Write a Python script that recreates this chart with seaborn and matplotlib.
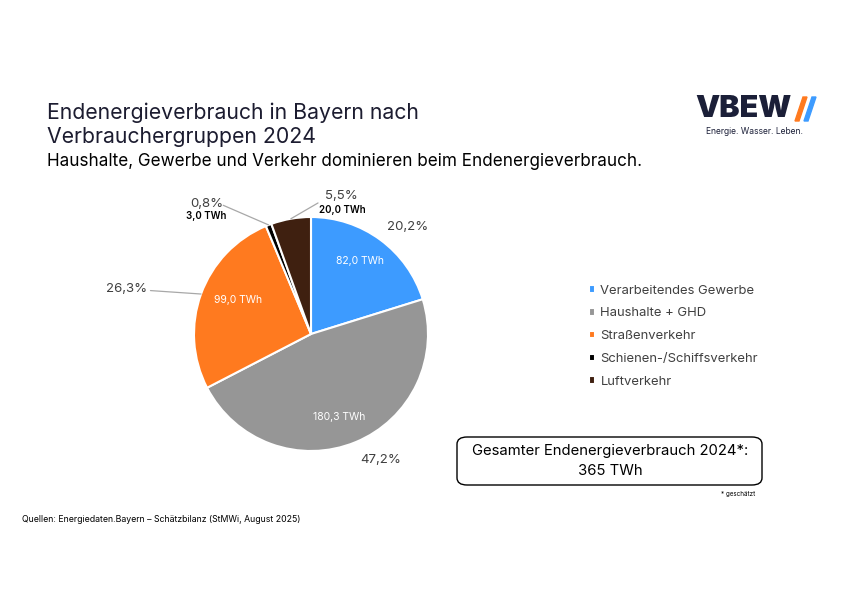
import matplotlib.pyplot as plt
import numpy as np
import seaborn as sns
from matplotlib.patches import FancyBboxPatch, Polygon

# Daten aus dem Diagramm
kategorien = ['Verarbeitendes Gewerbe', 'Haushalte + GHD', 'Straßenverkehr',
              'Schienen-/Schiffsverkehr', 'Luftverkehr']
anteile = [20.2, 47.2, 26.3, 0.8, 5.5]
twh = ['82,0 TWh', '180,3 TWh', '99,0 TWh', '3,0 TWh', '20,0 TWh']
prozent = ['20,2%', '47,2%', '26,3%', '0,8%', '5,5%']
farben = ['#3d9bff', '#969696', '#ff7a1f', '#000000', '#3f2010']

sns.set_theme(style='white')
plt.rcParams['font.family'] = ['Inter', 'DejaVu Sans']

W, H = 842, 595
fig = plt.figure(figsize=(W / 100, H / 100), dpi=100)


def fx(px):
    return px / W


def fy(py):
    return 1 - py / H


# Pie-Achse: Mittelpunkt (311, 334), Radius 117 px
cx, cy, R = 311, 334, 117
ax = fig.add_axes([fx(cx - 2 * R), fy(cy + 2 * R), 4 * R / W, 4 * R / H])

wedges, _ = ax.pie(anteile, colors=farben, startangle=90, counterclock=False,
                   wedgeprops=dict(edgecolor='white', linewidth=1.5))
ax.set_xlim(-2, 2)
ax.set_ylim(-2, 2)
ax.set_aspect('equal')
ax.axis('off')

grau = '#404040'
linie = '#a8a8a8'

# Innenbeschriftungen und Prozente der großen Segmente
innen = {0: (0.75, 56), 1: (0.75, -71), 2: (0.69, 155)}
aussen = {0: (1.23, 48), 1: (1.23, -61)}
for i, (r, a) in innen.items():
    ax.text(r * np.cos(np.radians(a)), r * np.sin(np.radians(a)), twh[i],
            color='white', fontsize=7.5, ha='center', va='center')
for i, (r, a) in aussen.items():
    ax.text(r * np.cos(np.radians(a)), r * np.sin(np.radians(a)), prozent[i],
            color=grau, fontsize=9.5, ha='center', va='center')


def mitte(w):
    return np.radians((w.theta1 + w.theta2) / 2)


# Straßenverkehr mit Führungslinie
m = mitte(wedges[2])
ax.annotate(prozent[2], xy=(np.cos(m), np.sin(m)), xytext=(-1.40, 0.385),
            ha='right', va='center', fontsize=9.5, color=grau,
            arrowprops=dict(arrowstyle='-', color=linie, lw=0.9,
                            shrinkA=0, shrinkB=0))

# Schienen-/Schiffsverkehr
m = mitte(wedges[3])
ax.annotate('', xy=(np.cos(m), np.sin(m)), xytext=(-0.75, 1.10),
            arrowprops=dict(arrowstyle='-', color=linie, lw=0.9,
                            shrinkA=0, shrinkB=0))
ax.text(-0.89, 1.11, prozent[3], ha='center', va='center', fontsize=9.5,
        color=grau)
ax.text(-0.90, 1.005, twh[3], ha='center', va='center', fontsize=7,
        color='black', fontweight='semibold')

# Luftverkehr
m = mitte(wedges[4])
ax.annotate('', xy=(np.cos(m), np.sin(m)), xytext=(0.06, 1.12),
            arrowprops=dict(arrowstyle='-', color=linie, lw=0.9,
                            shrinkA=0, shrinkB=0))
ax.text(0.26, 1.18, prozent[4], ha='center', va='center', fontsize=9.5,
        color=grau)
ax.text(0.265, 1.06, twh[4], ha='center', va='center', fontsize=7,
        color='black', fontweight='semibold')

# Legende
leg = fig.legend(wedges, kategorien, loc='upper left',
                 bbox_to_anchor=(fx(577), fy(273)), frameon=False,
                 fontsize=9.4, handlelength=0.5, handleheight=0.5,
                 handletextpad=0.4, labelspacing=0.82, labelcolor=grau)

# Titel
navy = '#1c1c30'
fig.text(fx(47), fy(113), 'Endenergieverbrauch in Bayern nach', fontsize=15.3,
         color=navy, va='center')
fig.text(fx(47), fy(137), 'Verbrauchergruppen 2024', fontsize=15.3,
         color=navy, va='center')
fig.text(fx(47), fy(162),
         'Haushalte, Gewerbe und Verkehr dominieren beim Endenergieverbrauch.',
         fontsize=12.3, color='black', va='center')

# Logo
fig.text(fx(695), fy(109), 'VBEW', fontsize=22, fontweight='black',
         color='#1b1f38', va='center')
for x0, c in [(797, '#ff7a1f'), (806, '#3d9bff')]:
    pts = [(x0 + 6, 97), (x0 + 10, 97), (x0 + 2, 121), (x0 - 2, 121)]
    fig.patches.append(Polygon([(fx(a), fy(b)) for a, b in pts], closed=True,
                               transform=fig.transFigure, color=c))
fig.text(fx(706), fy(131), 'Energie. Wasser. Leben.', fontsize=6.1,
         color='#1b1f38', va='center')

# Gesamtbox
box = FancyBboxPatch((fx(457), fy(485)), fx(762) - fx(457), fy(437) - fy(485),
                     boxstyle='round,pad=0,rounding_size=0.012',
                     transform=fig.transFigure, facecolor='white',
                     edgecolor='black', linewidth=1.0)
fig.patches.append(box)
fig.text(fx(610), fy(451), 'Gesamter Endenergieverbrauch 2024*:', fontsize=10.7,
         ha='center', va='center', color='black')
fig.text(fx(610), fy(471), '365 TWh', fontsize=10.7, ha='center', va='center',
         color='black')
fig.text(fx(755), fy(494), '* geschätzt', fontsize=4.5, ha='right',
         va='center', color='black')

# Quelle
fig.text(fx(22), fy(520),
         'Quellen: Energiedaten.Bayern – Schätzbilanz (StMWi, August 2025)',
         fontsize=6.3, color='black', va='center')

fig.savefig('out.png', dpi=100, facecolor='white')
